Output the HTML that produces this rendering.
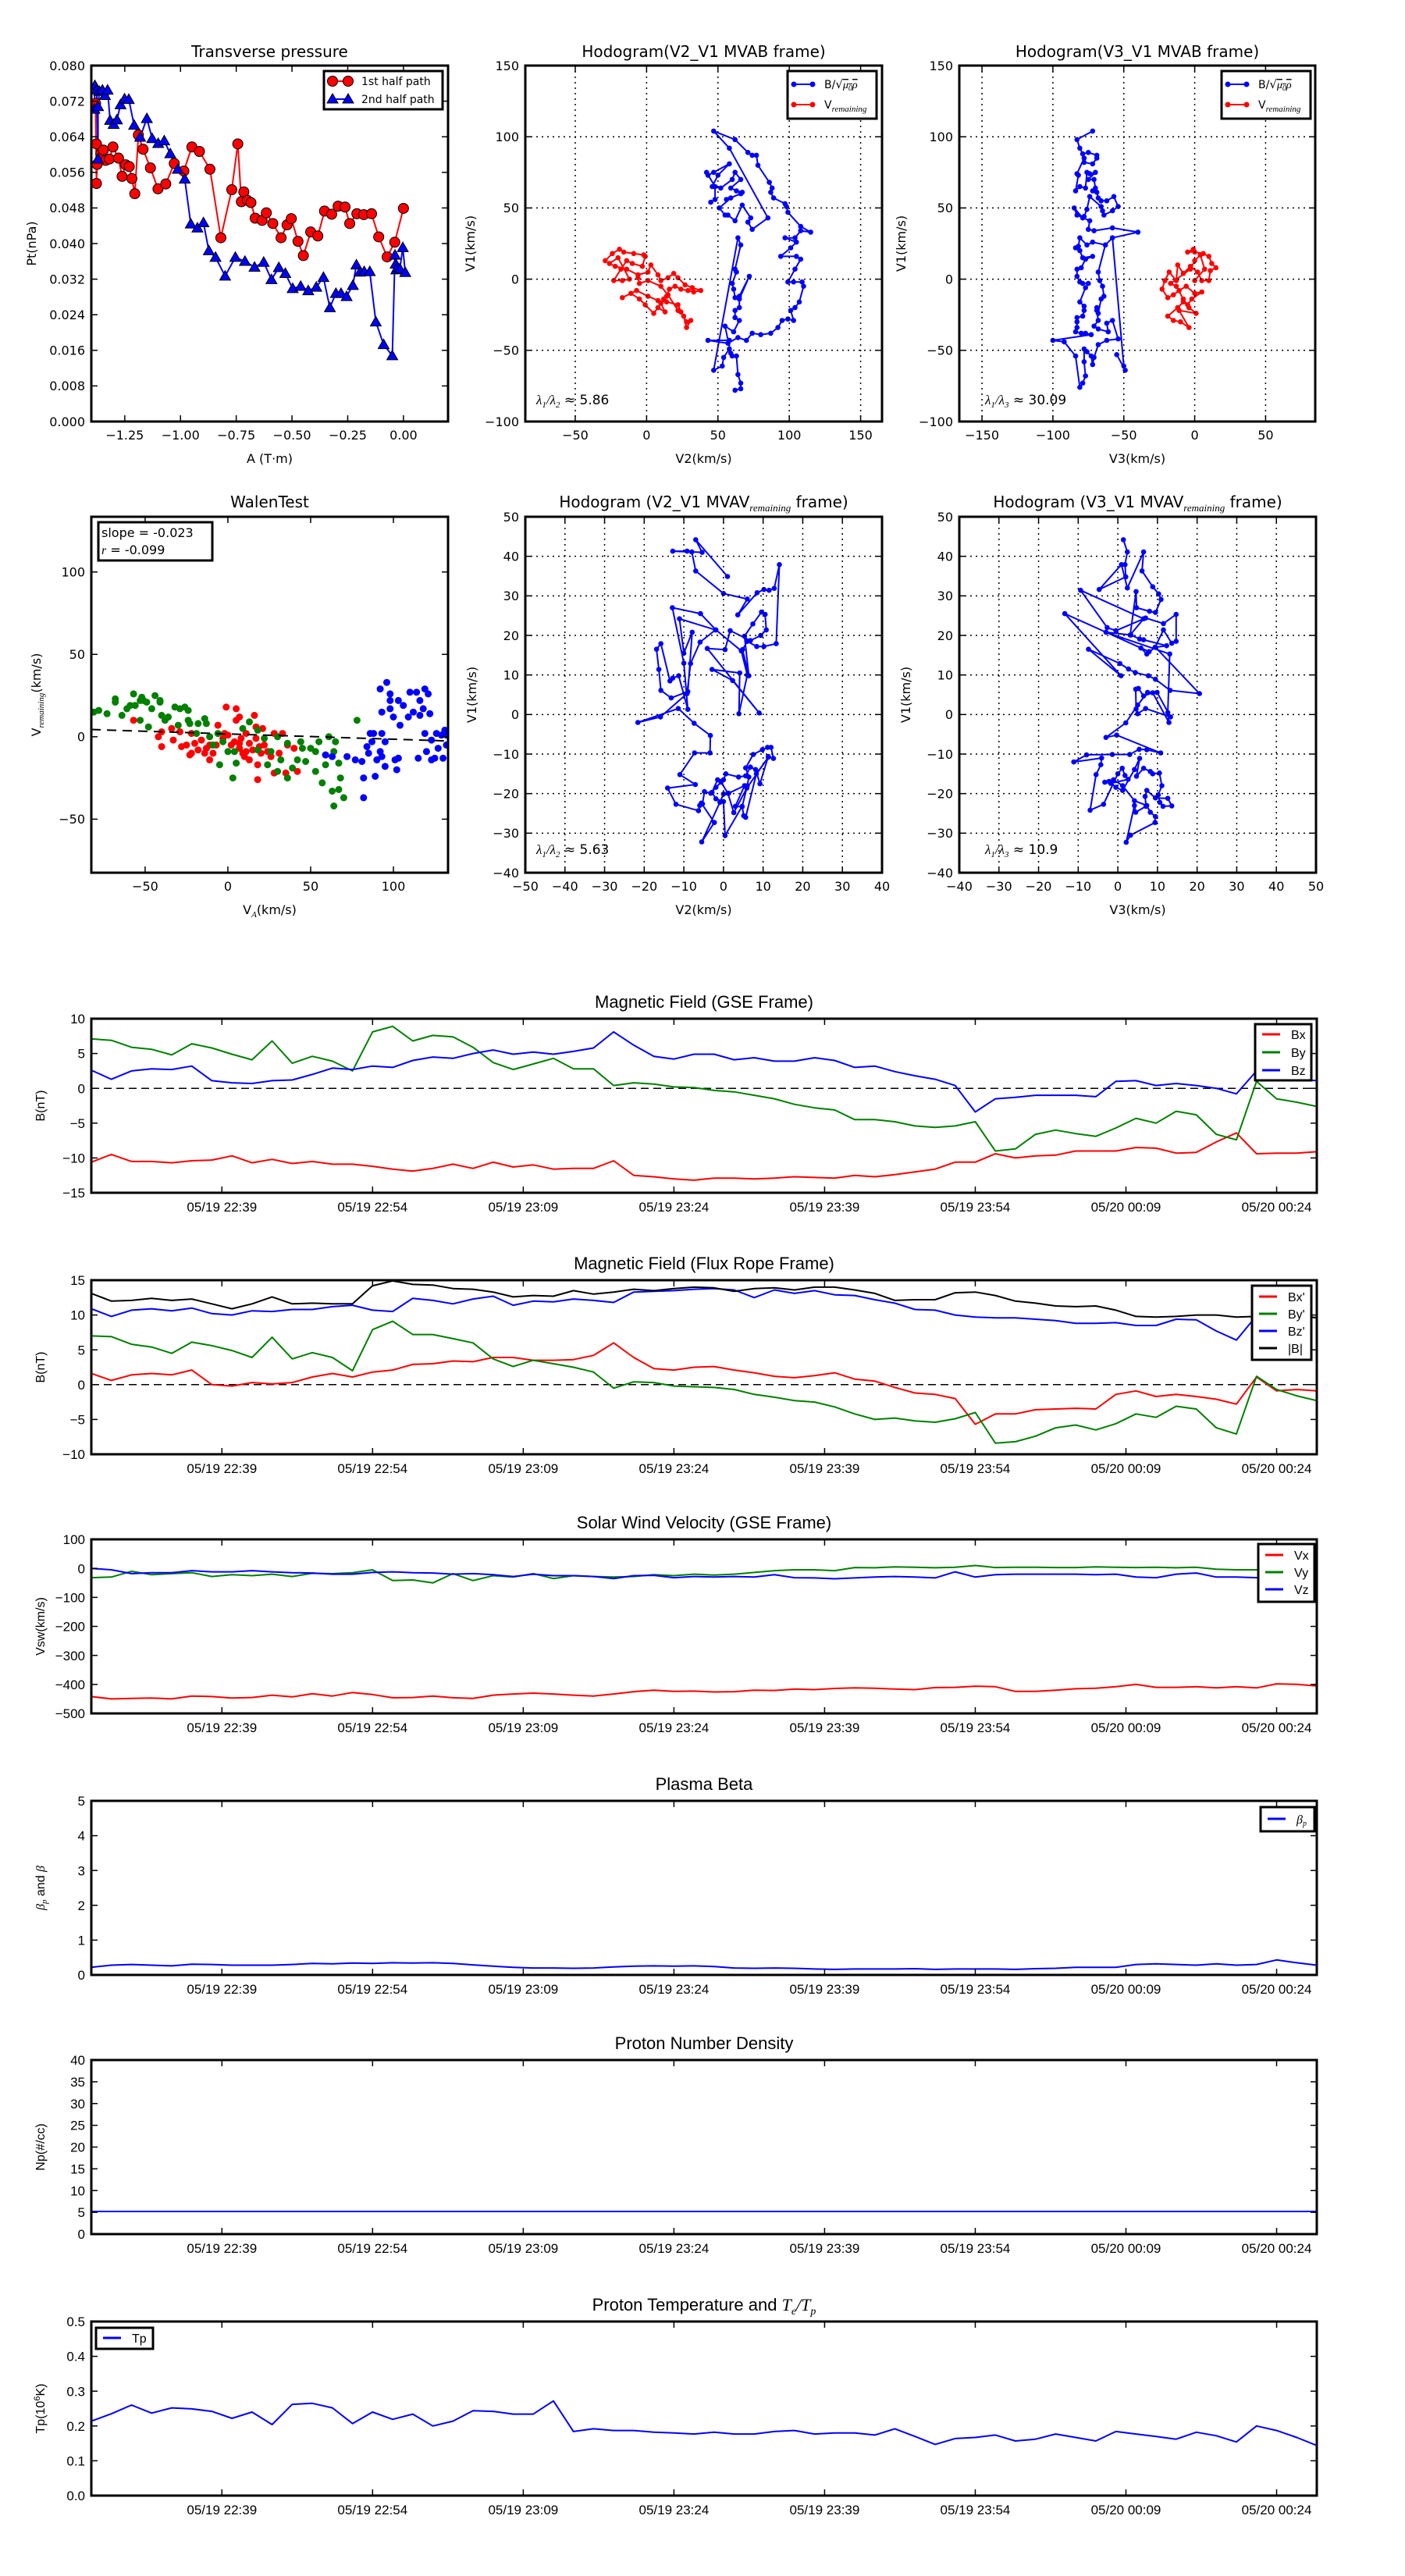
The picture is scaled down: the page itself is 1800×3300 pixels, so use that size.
<!DOCTYPE html>
<html><head><meta charset="utf-8"><title>Flux rope analysis figure</title>
<style>
html,body{margin:0;padding:0;background:#fff;}
svg{display:block;}
text{font-family:"DejaVu Sans","Liberation Sans",sans-serif;fill:#000;}
.ts text{font-family:"Liberation Sans","DejaVu Sans",sans-serif;}
</style></head>
<body>
<svg id="fig" xmlns="http://www.w3.org/2000/svg" width="1800" height="3300" viewBox="0 0 1800 3300">
<rect x="0" y="0" width="1800" height="3300" fill="#fff"/>
</svg>
<script>
// ---------- Transverse pressure ----------
const ptRedA=[-1.381,-1.377,-1.374,-1.377,-1.357,-1.346,-1.336,-1.319,-1.303,-1.278,-1.262,-1.246,-1.230,-1.218,-1.205,-1.189,-1.168,-1.135,-1.101,-1.066,-1.028,-0.985,-0.949,-0.915,-0.868,-0.819,-0.770,-0.743,-0.727,-0.716,-0.700,-0.684,-0.665,-0.634,-0.615,-0.586,-0.549,-0.522,-0.503,-0.473,-0.449,-0.416,-0.384,-0.354,-0.322,-0.293,-0.262,-0.241,-0.209,-0.178,-0.143,-0.111,-0.073,-0.039,0.000];
const ptRedP=[0.0715,0.0535,0.0578,0.0624,0.0602,0.0610,0.0587,0.0590,0.0617,0.0592,0.0551,0.0577,0.0573,0.0546,0.0512,0.0644,0.0612,0.0570,0.0523,0.0534,0.0580,0.0563,0.0617,0.0607,0.0567,0.0413,0.0521,0.0624,0.0494,0.0516,0.0497,0.0492,0.0457,0.0452,0.0469,0.0445,0.0413,0.0442,0.0456,0.0405,0.0373,0.0426,0.0417,0.0473,0.0466,0.0484,0.0482,0.0445,0.0467,0.0465,0.0467,0.0415,0.0370,0.0403,0.0479];
const ptBlueA=[-1.386,-1.384,-1.376,-1.370,-1.370,-1.364,-1.350,-1.339,-1.327,-1.316,-1.300,-1.285,-1.269,-1.251,-1.232,-1.208,-1.181,-1.151,-1.127,-1.100,-1.073,-1.046,-1.012,-0.981,-0.954,-0.924,-0.897,-0.873,-0.843,-0.800,-0.754,-0.711,-0.668,-0.627,-0.592,-0.559,-0.530,-0.497,-0.461,-0.427,-0.391,-0.359,-0.330,-0.303,-0.280,-0.255,-0.227,-0.211,-0.195,-0.176,-0.151,-0.124,-0.089,-0.050,-0.038,-0.035,-0.032,-0.026,-0.016,-0.003,0.008];
const ptBlueP=[0.0702,0.0755,0.0745,0.0590,0.0708,0.0742,0.0745,0.0733,0.0745,0.0677,0.0668,0.0678,0.0712,0.0725,0.0724,0.0666,0.0639,0.0681,0.0636,0.0625,0.0631,0.0602,0.0567,0.0545,0.0444,0.0435,0.0447,0.0384,0.0369,0.0327,0.0369,0.0360,0.0347,0.0358,0.0319,0.0346,0.0333,0.0299,0.0304,0.0294,0.0302,0.0324,0.0256,0.0288,0.0288,0.0281,0.0306,0.0352,0.0336,0.0337,0.0337,0.0224,0.0173,0.0148,0.0374,0.0354,0.0341,0.0347,0.0343,0.0391,0.0335];
const ptXTicks=[-1.25,-1.00,-0.75,-0.50,-0.25,0.00];
const ptXLabels=['\u22121.25','\u22121.00','\u22120.75','\u22120.50','\u22120.25','0.00'];
const ptYTicks=[0,0.008,0.016,0.024,0.032,0.040,0.048,0.056,0.064,0.072,0.080];
const ptYLabels=['0.000','0.008','0.016','0.024','0.032','0.040','0.048','0.056','0.064','0.072','0.080'];

// ---------- Hodogram V2_V1 MVAB ----------
const h1BlueV2=[45,48,48,42,43,47,58,50,46,52,60,62,66,59,63,67,66,56,59,51,55,57,62,67,73,71,74,85,58,47,62,71,74,77,78,86,88,87,89,97,98,99,108,115,108,104,97,105,101,94,105,108,104,99,103,109,110,107,104,101,103,99,95,92,87,80,74,70,64,57,43,58,58,54,53,47,64,66,62,63,60,61,62,65,72,65,65,62,62,65,61,55,59,60,63,64,66,66,62];
const h1BlueV1=[54,56,65,75,73,75,81,73,65,64,70,75,70,64,62,61,60,56,57,50,45,45,41,52,43,40,35,43,92,104,98,89,87,87,80,68,64,61,57,53,51,47,37,33,34,29,29,26,22,16,16,14,7,-2,-2,-2,-5,-16,-20,-22,-29,-28,-29,-34,-38,-39,-38,-43,-41,-45,-43,-43,-49,-55,-61,-64,29,24,7,5,-3,-7,-13,-12,2,-14,-20,-22,-27,-29,-37,-33,-52,-54,-54,-67,-73,-77,-78];
const h1RedV2=[-29,-24,-19,-16,-9,-2,-1,-3,-10,-14,-18,-23,-17,-12,-20,-26,-22,-14,-6,1,3,8,10,15,19,22,27,32,38,33,29,24,20,16,14,12,10,13,8,5,-1,-5,-11,-17,-7,1,8,14,22,24,28,31,28,26,22,15,10,1,-5,-6];
const h1RedV1=[13,18,21,19,18,17,16,9,11,13,7,-1,-1,0,15,11,9,7,3,5,10,3,-1,1,4,1,-4,-6,-8,-9,-8,-7,-5,-7,-12,-14,-17,-23,-20,-24,-18,-14,-10,-13,-8,-12,-15,-16,-18,-23,-30,-29,-34,-26,-22,-11,-5,-1,-3,1];
// ---------- Hodogram V3_V1 MVAB ----------
const h2BlueV3=[-72,-83,-81,-79,-75,-69,-69,-72,-78,-78,-83,-82,-84,-81,-77,-76,-74,-70,-75,-71,-70,-72,-69,-68,-66,-62,-57,-54,-58,-64,-65,-66,-74,-76,-78,-79,-85,-83,-74,-75,-71,-58,-40,-58,-63,-72,-76,-81,-82,-84,-81,-79,-72,-77,-80,-83,-83,-81,-79,-75,-77,-81,-78,-78,-79,-83,-83,-83,-84,-80,-77,-73,-100,-92,-84,-81,-79,-77,-78,-78,-76,-73,-72,-71,-68,-62,-54,-58,-62,-61,-68,-71,-68,-69,-69,-68,-66,-64,-65,-67,-68,-63,-58,-50,-49,-55];
const h2BlueV1=[104,98,92,88,89,87,85,81,82,85,74,73,62,65,64,75,74,75,70,70,64,62,61,57,55,55,58,51,48,45,48,51,58,49,44,43,50,45,41,35,34,36,33,29,24,26,24,29,23,22,20,15,16,14,8,7,2,-2,-3,-3,-6,-16,-19,-22,-26,-27,-30,-34,-37,-38,-38,-39,-43,-44,-54,-76,-73,-68,-58,-49,-51,-54,-60,-55,-46,-43,-42,-29,-31,-37,-35,-33,-29,-22,-20,-24,-14,-12,-5,-1,5,24,29,-61,-64,-53];
const h2RedV3=[-1,-5,0,6,10,12,15,11,10,5,2,-3,-8,-12,-13,-18,-21,-23,-19,-15,-11,-6,0,5,-2,-5,-8,-12,-19,-15,-10,-4,-11,1,-4,-8,-13,-17,-3,0,4,7,0];
const h2RedV1=[21,19,19,18,16,11,8,6,-1,-1,5,9,4,10,-1,5,-1,-7,-13,-11,-8,-5,-10,-9,-14,-18,-16,-20,-26,-29,-30,-34,-22,-24,-20,-14,-5,-3,7,13,17,7,-1];
// ---------- Hodogram V2_V1 MVAV ----------
const h3V2=[1.0,-7.0,-5.4,-12.8,-9.2,-8.0,-7.0,0,6.0,3.6,8.5,10.2,11.5,12.8,14.1,13.3,10.2,8.4,6.0,4.8,6.4,5.3,7.4,9.6,10.5,10.8,9.4,6.8,1.7,0.4,-4.1,9.0,2.3,-2.9,4.1,3.9,6.0,4.5,-1.9,-5.8,-12.9,-10.0,-9.0,-11.3,-12.8,-13.5,-15.8,-16.9,-16.3,-15.8,-13.2,-9.0,-7.9,-10.0,-11.1,-2.0,-5.9,-8.3,-9.2,-15.9,-21.6,-11.4,-7.4,-3.3,-3.4,-7.3,-11.0,-7.1,-14.1,-12.0,-6.3,-5.6,-2.3,-5.5,-0.9,0,1.3,5.3,3.0,4.7,6.0,6.4,5.6,7.5,9.8,11.1,12.0,12.6,11.3,9.2,8.1,6.8,5.6,3.8,0.6,0,-1.5,-2.9,-1.9,0,0.4,4.7,5.1,5.6,8.3,11.3,5.9,2.6,1.1,-0.6,-1.9,-3.2,-4.8,-5.3,-6.0];
const h3V1=[34.9,44.2,41.0,41.3,41.3,41.1,36.3,30.6,29.2,25.2,30.8,31.6,31.4,31.9,37.9,17.9,17.2,17.2,18.5,16.4,9.8,19.8,22.9,25.9,25.3,21.4,20.0,18.7,21.2,16.4,16.7,0.4,8.6,11.4,10.5,0.2,10.0,16.1,21.4,25.5,27.0,13.0,1.3,9.8,9.2,8.5,17.9,16.5,11.4,6.1,4.2,5.8,20.8,15.5,24.2,21.4,18.3,12.9,5.3,-0.6,-2.0,1.5,-2.2,-5.3,-9.7,-9.7,-15.2,-17.7,-18.6,-22.7,-24.3,-22.4,-27.3,-32.2,-22.2,-20.1,-19.9,-18.0,-23.2,-23.3,-18.0,-15.8,-13.5,-10.1,-8.9,-8.3,-8.3,-11.1,-10.6,-17.5,-13.9,-13.3,-15.5,-15.8,-15.0,-16.5,-16.5,-19.7,-21.3,-22.0,-30.6,-23.2,-25.6,-26.0,-15.0,-10.8,-18.6,-24.8,-19.9,-17.1,-18.4,-19.9,-19.5,-22.6,-23.0];
// ---------- Hodogram V3_V1 MVAV ----------
const h4V3=[1.4,2.4,1.8,2.0,-4.7,0.9,2.4,6.5,6.1,8.8,10.3,10.9,9.5,8.0,4.7,4.6,3.1,6.5,-9.4,-2.7,-0.5,7.0,11.5,14.7,14.7,13.6,11.5,9.4,7.3,5.8,7.9,-13.4,0.8,-7.4,0.5,2.7,4.4,7.7,9.5,13.2,20.6,9.5,12.3,6.5,5.5,3.3,-3.0,13.1,12.6,12.9,8.8,6.5,5.2,4.5,4.6,5.0,7.0,13.3,9.9,7.5,5.0,2.0,-3.0,-0.3,10.8,7.3,5.4,3.0,-1.4,-7.9,-11.1,-4.1,-4.3,-5.5,-7.0,-3.6,0,1.1,1.8,2.6,-1.8,-3.3,-2.2,-0.5,1.2,4.2,5.5,4.7,6.5,8.2,8.8,10.5,11.1,10.2,10.6,11.4,13.6,12.6,9.5,7.3,6.9,7.1,4.5,4.2,2.1,3.2,9.4,9.5,8.2,7.3,4.2,1.2,-1.1];
const h4V1=[44.2,41.1,37.9,34.8,31.6,37.9,32.0,41.1,36.3,32.3,30.5,29.1,25.8,26.1,27.0,31.1,20.1,24.2,31.4,22.0,21.2,24.4,23.0,25.3,18.5,18.0,21.4,17.0,15.3,16.8,15.9,25.5,9.8,16.5,12.9,11.5,10.6,9.8,8.9,6.1,5.3,17.0,17.4,18.9,19.1,20.1,20.8,15.3,0.5,-2.0,5.5,4.7,6.6,6.4,1.4,0.2,1.5,-0.6,5.6,5.6,2.4,-2.1,-5.8,-5.2,-9.7,-8.9,-8.8,-10.1,-10.1,-10.2,-12.0,-11.0,-12.7,-15.2,-24.2,-22.7,-15.0,-13.6,-15.4,-16.4,-17.4,-17.1,-16.9,-18.4,-19.2,-13.9,-11.1,-15.6,-13.6,-14.4,-15.0,-14.8,-18.0,-20.3,-22.2,-23.2,-23.1,-21.2,-21.1,-19.2,-20.7,-23.2,-24.7,-23.0,-32.3,-30.5,-27.3,-25.8,-24.7,-23.0,-21.8,-18.0,-16.5];
// ---------- Walen test ----------
const walenGreenVA=[-81,-78,-73,-68,-68,-64,-61,-59,-57,-56,-53,-52,-51,-49,-53,-48,-46,-44,-41,-40,-41,-38,-36,-32,-30,-29,-26,-24,-24,-23,-19,-18,-14,-13,-11,-9,-6,-5,-3,0,4,5,3,9,13,18,18,22,24,26,30,30,32,36,36,39,42,44,45,47,50,53,53,55,57,59,61,63,64,64,65,67,67,68,70,78];
const walenGreenV=[15,16,14,21,23,13,17,19,26,19,22,24,22,21,10,6,17,25,22,13,21,10,12,18,7,17,18,16,10,8,2,8,11,8,0,-5,2,-17,-3,-9,-9,-16,-25,5,9,4,-8,-1,-17,-9,0,-21,-14,-4,-25,-19,-14,-3,-7,-15,-7,-9,-21,-3,-28,-17,0,-33,-9,-42,-3,-16,-32,-25,-37,10];
const walenRedVA=[-57,-42,-40,-40,-33,-34,-28,-25,-23,-22,-20,-18,-16,-13,-11,-9,-6,-3,-2,-1,2,5,5,7,8,11,11,13,16,17,18,18,20,21,24,26,28,28,31,33,35,36,40,42,59,7,10,15,22,-22,-29,0,4,7,9,13,17,19,-11,-7,-14];
const walenRedV=[10,0,-6,3,-2,5,-6,-5,-11,-10,-4,-8,-2,-7,-14,-10,7,-1,2,18,-5,17,10,12,-1,2,-9,-14,13,6,-26,-17,-10,5,-9,-12,2,-22,-10,2,-22,-5,-7,-21,-11,-4,-12,-8,-5,2,3,1,-3,-7,-10,-4,-1,-6,-5,-5,-10];
const walenBlueVA=[59,63,72,77,82,82,81,84,85,86,88,89,90,92,92,93,93,95,96,98,98,100,101,102,103,103,104,106,110,112,114,115,116,118,119,120,119,121,122,123,123,125,126,127,129,130,131,132,132,116,109,95,87,93,98];
const walenBlueV=[-11,-12,-12,-14,-25,-37,-15,-6,-10,2,2,-24,-14,-9,29,15,2,-18,33,26,22,12,-14,-20,-13,22,7,19,27,15,27,-13,13,17,2,-9,29,26,14,-14,-2,-13,2,-7,1,-13,4,-5,1,22,12,-3,-3,-12,17];
const walenSlope=-0.023, walenIntercept=0.5;

// ---------- Time series (minutes after 05/19 22:26) ----------
const tMin=[0,2,4,6,8,10,12,14,16,18,20,22,24,26,28,30,32,34,36,38,40,42,44,46,48,50,52,54,56,58,60,62,64,66,68,70,72,74,76,78,80,82,84,86,88,90,92,94,96,98,100,102,104,106,108,110,112,114,116,118,120,122];
const timeTicks=[13,28,43,58,73,88,103,118];
const timeLabels=['05/19 22:39','05/19 22:54','05/19 23:09','05/19 23:24','05/19 23:39','05/19 23:54','05/20 00:09','05/20 00:24'];
const gseBx=[-10.6,-9.5,-10.5,-10.5,-10.7,-10.4,-10.3,-9.7,-10.7,-10.2,-10.8,-10.5,-10.9,-10.9,-11.2,-11.6,-11.9,-11.5,-10.9,-11.5,-10.6,-11.3,-11.0,-11.6,-11.5,-11.5,-10.4,-12.5,-12.7,-13.0,-13.2,-12.9,-12.9,-13.0,-12.9,-12.7,-12.8,-12.9,-12.5,-12.7,-12.4,-12.0,-11.6,-10.6,-10.6,-9.4,-10.0,-9.7,-9.6,-9.0,-9.0,-9.0,-8.5,-8.6,-9.3,-9.2,-7.7,-6.4,-9.4,-9.3,-9.3,-9.1];
const gseBy=[7.1,6.9,5.9,5.6,4.8,6.4,5.8,4.9,4.1,6.8,3.6,4.6,3.9,2.5,8.1,8.9,6.8,7.6,7.4,5.9,3.7,2.7,3.5,4.3,2.8,2.8,0.4,0.8,0.6,0.2,0.1,-0.3,-0.5,-1.0,-1.5,-2.3,-2.8,-3.1,-4.5,-4.5,-4.8,-5.4,-5.6,-5.4,-4.8,-9.0,-8.7,-6.6,-6.0,-6.5,-6.9,-5.7,-4.3,-5.0,-3.3,-3.8,-6.6,-7.4,1.0,-1.5,-2.0,-2.6];
const gseBz=[2.6,1.3,2.5,2.8,2.7,3.2,1.1,0.8,0.7,1.1,1.2,2.0,2.9,2.7,3.2,3.0,4.0,4.5,4.3,5.0,5.5,4.9,5.2,4.9,5.3,5.8,8.1,6.2,4.6,4.2,4.9,4.9,4.1,4.4,3.9,3.9,4.4,4.0,3.0,3.2,2.4,1.8,1.3,0.4,-3.4,-1.5,-1.3,-1.0,-1.0,-1.0,-1.2,1.0,1.1,0.4,0.7,0.4,0,-0.8,2.5,1.1,1.3,1.1];
const frBx=[1.6,0.6,1.4,1.6,1.4,2.1,0,-0.2,0.3,0.1,0.3,1.1,1.6,1.1,1.8,2.1,2.9,3.0,3.4,3.3,3.9,3.9,3.5,3.5,3.6,4.2,6.0,3.9,2.3,2.1,2.5,2.6,2.1,1.7,1.2,1.0,1.3,1.7,0.8,0.5,-0.4,-1.2,-1.4,-2.0,-5.7,-4.2,-4.2,-3.6,-3.5,-3.4,-3.5,-1.4,-0.9,-1.7,-1.4,-1.7,-2.1,-2.8,1.1,-0.9,-0.7,-0.9];
const frBy=[7.0,6.9,5.8,5.4,4.5,6.1,5.6,4.9,3.9,6.8,3.7,4.6,3.9,2.0,7.9,9.1,7.2,7.2,6.6,6.0,3.7,2.6,3.5,3.0,2.5,1.8,-0.5,0.4,0.3,-0.2,-0.3,-0.4,-0.7,-1.4,-1.8,-2.3,-2.5,-3.2,-4.2,-5.0,-4.8,-5.2,-5.4,-4.9,-4.0,-8.4,-8.2,-7.4,-6.2,-5.8,-6.5,-5.6,-4.2,-4.7,-3.1,-3.5,-6.2,-7.1,1.2,-0.7,-1.6,-2.3];
const frBz=[10.9,9.8,10.7,10.9,10.6,11.0,10.2,10.0,10.6,10.5,10.8,10.8,11.2,11.4,10.7,10.5,12.4,12.1,11.6,12.3,12.7,11.4,12.0,11.9,12.3,12.1,11.8,13.3,13.4,13.5,13.7,13.8,13.6,12.5,13.6,13.1,13.5,12.9,12.8,12.2,11.7,10.8,10.7,10.0,9.7,9.6,9.6,9.4,9.2,8.8,8.8,8.9,8.5,8.5,9.4,9.3,7.7,6.4,9.9,10.2,10.0,9.6];
const frBt=[13.1,12.0,12.1,12.4,12.1,12.3,11.6,10.9,11.6,12.6,11.6,11.7,11.6,11.6,14.2,14.9,14.4,14.3,13.8,13.7,13.3,12.6,12.8,12.7,13.5,13.0,13.3,13.7,13.5,13.8,14.0,13.9,13.4,13.8,13.9,13.6,14.0,14.0,13.6,13.1,12.1,12.2,12.2,13.2,13.3,12.8,12.0,11.7,11.3,11.2,11.3,10.7,9.8,9.7,9.8,10.0,10.0,9.7,9.8,10.0,10.0,9.6];
const vx=[-442,-450,-448,-447,-450,-440,-442,-447,-445,-437,-443,-432,-440,-428,-435,-446,-445,-440,-446,-448,-437,-433,-430,-433,-437,-440,-433,-425,-420,-424,-423,-426,-425,-420,-421,-416,-418,-414,-412,-413,-416,-418,-411,-410,-406,-408,-424,-424,-420,-415,-413,-408,-400,-410,-410,-408,-412,-408,-412,-398,-400,-405];
const vy=[-32,-30,-10,-22,-18,-15,-28,-22,-25,-20,-28,-17,-18,-15,-5,-42,-40,-50,-18,-42,-25,-30,-18,-35,-25,-28,-30,-28,-22,-25,-20,-23,-20,-14,-8,-5,-5,-8,3,2,5,4,2,4,10,3,4,4,3,3,5,4,3,4,2,4,-3,-5,-5,8,-10,-5];
const vz=[0,-5,-18,-15,-15,-8,-12,-12,-8,-12,-15,-16,-20,-20,-14,-12,-15,-16,-20,-18,-22,-28,-20,-25,-25,-28,-35,-25,-24,-32,-28,-30,-28,-30,-22,-32,-33,-36,-33,-30,-28,-30,-33,-12,-30,-22,-20,-20,-20,-20,-22,-20,-30,-32,-20,-16,-30,-30,-32,-26,-22,-25];
const betaP=[0.22,0.28,0.30,0.28,0.26,0.31,0.30,0.28,0.28,0.28,0.30,0.33,0.32,0.34,0.33,0.35,0.34,0.35,0.33,0.29,0.25,0.22,0.20,0.20,0.19,0.20,0.23,0.25,0.26,0.25,0.26,0.24,0.20,0.19,0.20,0.19,0.17,0.16,0.17,0.17,0.17,0.18,0.16,0.17,0.17,0.17,0.16,0.18,0.19,0.22,0.22,0.22,0.30,0.32,0.30,0.28,0.32,0.28,0.30,0.43,0.35,0.28];
const np=[5.2,5.2,5.2,5.2,5.2,5.2,5.2,5.2,5.2,5.2,5.2,5.2,5.2,5.2,5.2,5.2,5.2,5.2,5.2,5.2,5.2,5.2,5.2,5.2,5.2,5.2,5.2,5.2,5.2,5.2,5.2,5.2,5.2,5.2,5.2,5.2,5.2,5.2,5.2,5.2,5.2,5.2,5.2,5.2,5.2,5.2,5.2,5.2,5.2,5.2,5.2,5.2,5.2,5.2,5.2,5.2,5.2,5.2,5.2,5.2,5.2,5.2];
const tp=[0.214,0.235,0.260,0.237,0.252,0.249,0.242,0.222,0.240,0.204,0.262,0.265,0.252,0.207,0.240,0.219,0.234,0.200,0.214,0.244,0.242,0.234,0.234,0.272,0.184,0.192,0.187,0.187,0.182,0.180,0.177,0.182,0.177,0.177,0.184,0.187,0.177,0.180,0.180,0.174,0.192,0.170,0.147,0.164,0.167,0.174,0.157,0.162,0.177,0.167,0.157,0.184,0.177,0.170,0.162,0.182,0.172,0.154,0.200,0.187,0.167,0.144];

const NS='http://www.w3.org/2000/svg';
const svg=document.getElementById('fig');
function mk(tag,attrs,parent){const e=document.createElementNS(NS,tag);for(const k in attrs)e.setAttribute(k,attrs[k]);(parent||svg).appendChild(e);return e;}
let clipN=0;
function makeAxes(name,x0,y0,w,h,xmin,xmax,ymin,ymax){
  const g=mk('g',{});
  
  
  const id='clip'+(clipN++);
  const cp=mk('clipPath',{id:id},g);mk('rect',{x:x0,y:y0,width:w,height:h},cp);
  const data=mk('g',{'clip-path':'url(#'+id+')'},g);
  
  
  return {g,data,x0,y0,w,h,sx:v=>x0+(v-xmin)/(xmax-xmin)*w,sy:v=>y0+h-(v-ymin)/(ymax-ymin)*h};
}
function frame(a,xt,xl,yt,yl,o){
  const fs=o.fs||16, tl=8;
  if(o.grid){
    xt.forEach(v=>{const l=mk('line',{x1:a.sx(v),x2:a.sx(v),y1:a.y0,y2:a.y0+a.h,stroke:'#000','stroke-width':1.5,'stroke-dasharray':'2,5'},a.g);});
    yt.forEach(v=>{const l=mk('line',{x1:a.x0,x2:a.x0+a.w,y1:a.sy(v),y2:a.sy(v),stroke:'#000','stroke-width':1.5,'stroke-dasharray':'2,5'},a.g);});
  }
  const tg=mk('g',{},a.g);
  
  
  xt.forEach((v,i)=>{const x=a.sx(v);
    mk('line',{x1:x,x2:x,y1:a.y0+a.h,y2:a.y0+a.h-tl,stroke:'#000','stroke-width':1.5},tg);
    mk('line',{x1:x,x2:x,y1:a.y0,y2:a.y0+tl,stroke:'#000','stroke-width':1.5},tg);
    const t=mk('text',{x:x,y:a.y0+a.h+(o.xlOff||23),'text-anchor':'middle','font-size':fs},tg);t.textContent=xl[i];
    
    
  });
  yt.forEach((v,i)=>{const y=a.sy(v);
    mk('line',{x1:a.x0,x2:a.x0+tl,y1:y,y2:y,stroke:'#000','stroke-width':1.5},tg);
    mk('line',{x1:a.x0+a.w,x2:a.x0+a.w-tl,y1:y,y2:y,stroke:'#000','stroke-width':1.5},tg);
    const t=mk('text',{x:a.x0-8,y:y+fs*0.36,'text-anchor':'end','font-size':fs},tg);t.textContent=yl[i];
    
    
  });
  const r=mk('rect',{x:a.x0,y:a.y0,width:a.w,height:a.h,fill:'none',stroke:'#000','stroke-width':3},a.g);
  
  
}
function title(a,html,y,fs,cls){const t=mk('text',{x:a.x0+a.w/2,y:y,'text-anchor':'middle','font-size':fs},a.g);t.innerHTML=html;
  
  return t;}
function xlabel(a,html,y,fs){const t=mk('text',{x:a.x0+a.w/2,y:y,'text-anchor':'middle','font-size':fs},a.g);t.innerHTML=html;
  
  }
function ylabel(a,html,x,fs){const cy=a.y0+a.h/2;const t=mk('text',{x:x,y:cy,'text-anchor':'middle','font-size':fs,transform:'rotate(-90 '+x+' '+cy+')'},a.g);t.innerHTML=html;
  
  }
function line(a,xs,ys,color,name,w){const pts=xs.map((x,i)=>a.sx(x).toFixed(1)+','+a.sy(ys[i]).toFixed(1)).join(' ');
  const p=mk('polyline',{points:pts,fill:'none',stroke:color,'stroke-width':w||2,'stroke-linejoin':'round'},a.data);
  
  return p;}
function dots(a,xs,ys,color,r,name){const g=mk('g',{fill:color},a.data);
  
  
  xs.forEach((x,i)=>{mk('circle',{cx:a.sx(x).toFixed(1),cy:a.sy(ys[i]).toFixed(1),r:r},g);});}
function tris(a,xs,ys,color,s,name){const g=mk('g',{fill:color,stroke:'#000','stroke-width':1},a.data);
  
  
  xs.forEach((x,i)=>{const cx=a.sx(x),cy=a.sy(ys[i]);mk('polygon',{points:`${cx},${cy-s} ${cx-s},${cy+s*0.75} ${cx+s},${cy+s*0.75}`},g);});}
function legendBox(a,x,y,w,h,name){const r=mk('rect',{x:x,y:y,width:w,height:h,fill:'#fff',stroke:'#000','stroke-width':3},a.g);
  
  }
function legendEntry(a,x1,x2,y,color,tx,html,fs,marker){
  const g=mk('g',{},a.g);
  
  
  mk('line',{x1:x1,x2:x2,y1:y,y2:y,stroke:color,'stroke-width':marker?2:3},g);
  if(marker==='o'){[x1,x2].forEach(x=>mk('circle',{cx:x,cy:y,r:marker==='o'&&fs<16?6.5:3.5,fill:color,stroke:fs<16?'#000':'none'},g));}
  if(marker==='.'){[x1,x2].forEach(x=>mk('circle',{cx:x,cy:y,r:3.5,fill:color},g));}
  if(marker==='^'){[x1,x2].forEach(x=>mk('polygon',{points:`${x},${y-7} ${x-7},${y+5} ${x+7},${y+5}`,fill:color,stroke:'#000'},g));}
  const t=mk('text',{x:tx,y:y+fs*0.36,'font-size':fs},g);t.innerHTML=html;
}

// ===== Panel 1: Transverse pressure =====
(function(){
  const a=makeAxes('transverse-pressure-chart',117,84,457,456,-1.4,0.2,0,0.08);
  line(a,ptRedA,ptRedP,'#ff0000','series-1st-half-line');
  line(a,ptBlueA,ptBlueP,'#0000ff','series-2nd-half-line');
  const g=mk('g',{fill:'#ff0000',stroke:'#000','stroke-width':1},a.data);
  
  
  ptRedA.forEach((x,i)=>mk('circle',{cx:a.sx(x),cy:a.sy(ptRedP[i]),r:6.5},g));
  tris(a,ptBlueA,ptBlueP,'#0000ff',7,'series-2nd-half-markers');
  frame(a,ptXTicks,ptXLabels,ptYTicks,ptYLabels,{fs:16});
  title(a,'Transverse pressure',73,20);
  xlabel(a,'A (T·m)',593,16);
  ylabel(a,'Pt(nPa)',46,16);
  legendBox(a,415,91,152,49,'legend');
  legendEntry(a,426,446,104,'#ff0000',463,'1st half path',14,'o');
  legendEntry(a,426,446,127,'#0000ff',463,'2nd half path',14,'^');
})();

const legHtmlB='B/<tspan font-size="15">√</tspan><tspan text-decoration="overline" font-style="italic" font-family="Liberation Serif">μ<tspan font-size="10" dy="3">0</tspan><tspan dy="-3">ρ</tspan></tspan>';
const legHtmlV='V<tspan font-size="11" dy="4" font-style="italic" font-family="Liberation Serif">remaining</tspan>';

// ===== Panel 2: Hodogram V2_V1 MVAB =====
(function(){
  const a=makeAxes('hodogram-v2-v1-mvab',673,84,457,456,-85,165,-100,150);
  frame(a,[-50,0,50,100,150],['\u221250','0','50','100','150'],[-100,-50,0,50,100,150],['\u2212100','\u221250','0','50','100','150'],{fs:16,grid:true});
  line(a,h1BlueV2,h1BlueV1,'#0000ff','b-alfven-line');dots(a,h1BlueV2,h1BlueV1,'#0000ff',3.3,'b-alfven-points');
  line(a,h1RedV2,h1RedV1,'#ff0000','v-remaining-line');dots(a,h1RedV2,h1RedV1,'#ff0000',3.3,'v-remaining-points');
  title(a,'Hodogram(V2_V1 MVAB frame)',73,20);
  xlabel(a,'V2(km/s)',593,16);ylabel(a,'V1(km/s)',608,16);
  legendBox(a,1009,91,114,61,'legend');
  legendEntry(a,1017,1041,108,'#0000ff',1056,legHtmlB,14,'.');
  legendEntry(a,1017,1041,134,'#ff0000',1056,legHtmlV,14,'.');
  const t=mk('text',{x:687,y:518,'font-size':17},a.g);t.innerHTML='<tspan font-style="italic" font-family="Liberation Serif">λ<tspan font-size="11" dy="4">1</tspan><tspan dy="-4">/λ</tspan><tspan font-size="11" dy="4">2</tspan></tspan><tspan dy="-4"> ≈ 5.86</tspan>';
  
  
})();

// ===== Panel 3: Hodogram V3_V1 MVAB =====
(function(){
  const a=makeAxes('hodogram-v3-v1-mvab',1229,84,456,456,-166,85,-100,150);
  frame(a,[-150,-100,-50,0,50],['\u2212150','\u2212100','\u221250','0','50'],[-100,-50,0,50,100,150],['\u2212100','\u221250','0','50','100','150'],{fs:16,grid:true});
  line(a,h2BlueV3,h2BlueV1,'#0000ff','b-alfven-line');dots(a,h2BlueV3,h2BlueV1,'#0000ff',3.3,'b-alfven-points');
  line(a,h2RedV3,h2RedV1,'#ff0000','v-remaining-line');dots(a,h2RedV3,h2RedV1,'#ff0000',3.3,'v-remaining-points');
  title(a,'Hodogram(V3_V1 MVAB frame)',73,20);
  xlabel(a,'V3(km/s)',593,16);ylabel(a,'V1(km/s)',1160,16);
  legendBox(a,1565,91,114,61,'legend');
  legendEntry(a,1573,1597,108,'#0000ff',1612,legHtmlB,14,'.');
  legendEntry(a,1573,1597,134,'#ff0000',1612,legHtmlV,14,'.');
  const t=mk('text',{x:1262,y:518,'font-size':17},a.g);t.innerHTML='<tspan font-style="italic" font-family="Liberation Serif">λ<tspan font-size="11" dy="4">1</tspan><tspan dy="-4">/λ</tspan><tspan font-size="11" dy="4">3</tspan></tspan><tspan dy="-4"> ≈ 30.09</tspan>';
  
  
})();

// ===== Panel 4: Walen test =====
(function(){
  const a=makeAxes('walen-test-chart',117,662,457,456,-82.5,133,-82.5,133.5);
  dots(a,walenRedVA,walenRedV,'#ff0000',4.5,'walen-points-red');
  dots(a,walenGreenVA,walenGreenV,'#008000',4.5,'walen-points-green');
  dots(a,walenBlueVA,walenBlueV,'#0000ff',4.5,'walen-points-blue');
  const fl=mk('line',{x1:a.sx(-82.5),x2:a.sx(133),y1:a.sy(walenSlope*-82.5+walenIntercept+2),y2:a.sy(walenSlope*133+walenIntercept),stroke:'#000','stroke-width':2,'stroke-dasharray':'12,8'},a.data);
  
  
  frame(a,[-50,0,50,100],['\u221250','0','50','100'],[-50,0,50,100],['\u221250','0','50','100'],{fs:16});
  title(a,'WalenTest',650,20);
  xlabel(a,'V<tspan font-size="11" dy="4" font-style="italic" font-family="Liberation Serif">A</tspan><tspan dy="-4">(km/s)</tspan>',1171,16);
  ylabel(a,'V<tspan font-size="11" dy="4" font-style="italic" font-family="Liberation Serif">remaining</tspan><tspan dy="-4">(km/s)</tspan>',52,16);
  legendBox(a,126,669,146,49,'stats-box');
  const t1=mk('text',{x:130,y:688,'font-size':16},a.g);t1.textContent='slope = -0.023';
  
  
  const t2=mk('text',{x:130,y:710,'font-size':16},a.g);t2.innerHTML='<tspan font-style="italic" font-family="Liberation Serif">r</tspan> = -0.099';
  
  
})();

// ===== Panel 5 / 6: MVAV hodograms =====
function mvav(name,x0,xmin,xmax,xs,ys,xl,lam,ylx,lamx){
  const a=makeAxes(name,x0,662,457,456,xmin,xmax,-40,50);
  const xt=[];for(let v=xmin;v<=xmax;v+=10)xt.push(v);
  const yt=[-40,-30,-20,-10,0,10,20,30,40,50];
  frame(a,xt,xt.map(v=>v<0?'\u2212'+(-v):''+v),yt,yt.map(v=>v<0?'\u2212'+(-v):''+v),{fs:16,grid:true});
  line(a,xs,ys,'#0000ff','b-alfven-line');dots(a,xs,ys,'#0000ff',3.3,'b-alfven-points');
  title(a,'Hodogram ('+xl.slice(0,2)+'_V1 MVAV<tspan font-size="13" dy="5" font-style="italic" font-family="Liberation Serif">remaining</tspan><tspan dy="-5"> frame)</tspan>',650,20);
  xlabel(a,xl+'(km/s)',1171,16);ylabel(a,'V1(km/s)',ylx,16);
  const t=mk('text',{x:lamx,y:1094,'font-size':17},a.g);t.innerHTML='<tspan font-style="italic" font-family="Liberation Serif">λ<tspan font-size="11" dy="4">1</tspan><tspan dy="-4">/λ</tspan><tspan font-size="11" dy="4">'+lam[0]+'</tspan></tspan><tspan dy="-4"> ≈ '+lam[1]+'</tspan>';
  
  
}
mvav('hodogram-v2-v1-mvav',673,-50,40,h3V2,h3V1,'V2',['2','5.63'],610,687);
mvav('hodogram-v3-v1-mvav',1229,-40,50,h4V3,h4V1,'V3',['3','10.9'],1166,1262);

// ===== Time series panels =====
function tsPanel(name,y0,ymin,ymax,yt,ytl,ttl,yl,series,leg,zero){
  const a=makeAxes(name,117,y0,1570,223,0,122,ymin,ymax);
  a.g.setAttribute('class','ts');
  if(zero){const z=mk('line',{x1:a.x0,x2:a.x0+a.w,y1:a.sy(0),y2:a.sy(0),stroke:'#000','stroke-width':1.5,'stroke-dasharray':'10,6'},a.data);
    
    }
  series.forEach(s=>line(a,tMin,s[0],s[1],s[2]));
  frame(a,timeTicks,timeLabels,yt,ytl,{fs:17,xlOff:24});
  title(a,ttl,y0-14,22);
  ylabel(a,yl,57,16);
  if(leg){legendBox(a,leg.x,leg.y,leg.w,leg.h,'legend');
    leg.items.forEach((it,i)=>legendEntry(a,leg.x+9,leg.x+32,leg.y+leg.first+i*leg.step,it[0],leg.x+46,it[1],16));}
  return a;
}
const neg=v=>v<0?'\u2212'+(-v):''+v;
tsPanel('magnetic-field-gse-chart',1305,-15,10,[-15,-10,-5,0,5,10],[-15,-10,-5,0,5,10].map(neg),'Magnetic Field (GSE Frame)','B(nT)',
  [[gseBx,'#ff0000','series-bx'],[gseBy,'#008000','series-by'],[gseBz,'#0000ff','series-bz']],
  {x:1608,y:1312,w:72,h:72,first:13,step:23,items:[['#ff0000','Bx'],['#008000','By'],['#0000ff','Bz']]},true);
tsPanel('magnetic-field-flux-rope-chart',1640,-10,15,[-10,-5,0,5,10,15],[-10,-5,0,5,10,15].map(neg),'Magnetic Field (Flux Rope Frame)','B(nT)',
  [[frBx,'#ff0000','series-bx-prime'],[frBy,'#008000','series-by-prime'],[frBz,'#0000ff','series-bz-prime'],[frBt,'#000000','series-b-total']],
  {x:1604,y:1647,w:76,h:95,first:14,step:22,items:[['#ff0000',"Bx'"],['#008000',"By'"],['#0000ff',"Bz'"],['#000000','|B|']]},true);
tsPanel('solar-wind-velocity-chart',1972,-500,100,[-500,-400,-300,-200,-100,0,100],[-500,-400,-300,-200,-100,0,100].map(neg),'Solar Wind Velocity (GSE Frame)','Vsw(km/s)',
  [[vx,'#ff0000','series-vx'],[vy,'#008000','series-vy'],[vz,'#0000ff','series-vz']],
  {x:1612,y:1978,w:72,h:74,first:14,step:22,items:[['#ff0000','Vx'],['#008000','Vy'],['#0000ff','Vz']]},false);
tsPanel('plasma-beta-chart',2307,0,5,[0,1,2,3,4,5],['0','1','2','3','4','5'],'Plasma Beta','<tspan font-style="italic" font-family="Liberation Serif">β<tspan font-size="11" dy="3">p</tspan></tspan><tspan dy="-3"> and </tspan><tspan font-style="italic" font-family="Liberation Serif">β</tspan>',
  [[betaP,'#0000ff','series-beta-p']],
  {x:1615,y:2315,w:69,h:31,first:15,step:22,items:[['#0000ff','<tspan font-style="italic" font-family="Liberation Serif">β<tspan font-size="10" dy="3">p</tspan></tspan>']]},false);
tsPanel('proton-density-chart',2639,0,40,[0,5,10,15,20,25,30,35,40],['0','5','10','15','20','25','30','35','40'],'Proton Number Density','Np(#/cc)',
  [[np,'#0000ff','series-np']],null,false);
tsPanel('proton-temperature-chart',2974,0,0.5,[0,0.1,0.2,0.3,0.4,0.5],['0.0','0.1','0.2','0.3','0.4','0.5'],'Proton Temperature and <tspan font-style="italic" font-family="Liberation Serif">T<tspan font-size="14" dy="5">e</tspan><tspan dy="-5">/T</tspan><tspan font-size="14" dy="5">p</tspan></tspan>','Tp(10<tspan font-size="11" dy="-6">6</tspan><tspan dy="6">K)</tspan>',
  [[tp,'#0000ff','series-tp']],
  {x:123,y:2982,w:73,h:27,first:13,step:22,items:[['#0000ff','Tp']]},false);
</script>
</body></html>
